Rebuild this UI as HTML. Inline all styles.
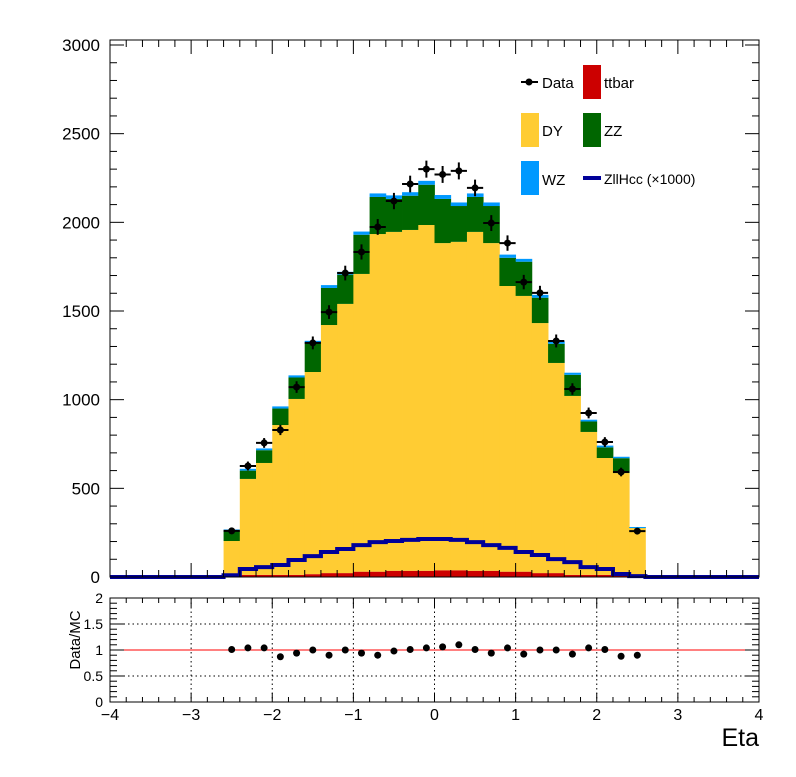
<!DOCTYPE html>
<html><head><meta charset="utf-8"><style>
body{margin:0;background:#fff;font-family:"Liberation Sans",sans-serif}
svg text{font-family:"Liberation Sans",sans-serif}
</style></head><body>
<svg id="c" width="796" height="772" xmlns="http://www.w3.org/2000/svg"></svg>
<script>
const binEdgesLow = -2.6, binWidth = 0.2;
const ttbar = [0,12,12,12,12,16,22,22,30,30,35,35,35,38,38,35,35,30,30,22,22,12,12,12,12,0];
const dyTop = [203,553,643,857,1004,1156,1421,1540,1709,1934,1946,1957,1985,1883,1890,1946,1883,1641,1585,1432,1207,1021,818,671,586,282];
const zzTop = [262,600,715,950,1125,1318,1630,1705,1930,2143,2132,2150,2212,2132,2092,2143,2092,1800,1778,1575,1315,1140,877,731,670,276];
const wz = [6,10,10,12,12,14,16,16,18,20,20,20,22,22,20,20,20,18,16,16,14,12,10,10,8,6];
const dataVals = [260,626,756,829,1071,1320,1494,1714,1833,1974,2120,2216,2300,2270,2290,2194,1996,1883,1663,1602,1331,1060,925,761,592,259];
const signal = [10,45,56,68,96,118,141,158,180,197,203,209,214,214,209,197,180,164,141,124,101,84,56,45,17,5];
const ratio = [1.01,1.04,1.04,0.87,0.94,1.0,0.90,1.0,0.94,0.90,0.98,1.01,1.04,1.06,1.10,1.01,0.94,1.04,0.92,1.0,1.0,0.92,1.04,1.01,0.88,0.90];
const yTicks = [0,500,1000,1500,2000,2500,3000];
const xTicks = [-4,-3,-2,-1,0,1,2,3,4];
const rTicks = [0,0.5,1,1.5,2];

const X0=110,X1=759;
const sx=v=>X0+(v+4)*(X1-X0)/8;
const sy=v=>577-v*(577-45)/3000;
const ry=v=>702-v*52;
const svg=document.getElementById('c');
const NS='http://www.w3.org/2000/svg';
function mk(tag,attrs,parent){const e=document.createElementNS(NS,tag);for(const k in attrs)e.setAttribute(k,attrs[k]);(parent||svg).appendChild(e);return e;}
function txt(s,x,y,attrs){const t=mk('text',Object.assign({x:x,y:y,'font-size':16},attrs||{}));t.textContent=s;return t;}

const gS=mk('g',{});


for(let i=0;i<dyTop.length;i++){
  const xa=sx(binEdgesLow+i*binWidth), xb=sx(binEdgesLow+(i+1)*binWidth);
  const wzTop=zzTop[i]+wz[i];
  const layers=[[0,ttbar[i],'#cc0000','ttbar'],[ttbar[i],dyTop[i],'#ffcc33','dy'],[dyTop[i],zzTop[i],'#006600','zz'],[zzTop[i],wzTop,'#0099ff','wz']];
  for(const L of layers){
    const r=mk('rect',{x:xa,y:sy(L[1]),width:xb-xa+0.4,height:Math.max(0,sy(L[0])-sy(L[1])),fill:L[2]},gS);
    
    
  }
}
let d='M'+X0+','+sy(0)+' L'+sx(binEdgesLow)+','+sy(0);
for(let i=0;i<signal.length;i++){
  const xa=sx(binEdgesLow+i*binWidth), xb=sx(binEdgesLow+(i+1)*binWidth);
  d+=' L'+xa+','+sy(signal[i])+' L'+xb+','+sy(signal[i]);
}
d+=' L'+sx(binEdgesLow+signal.length*binWidth)+','+sy(0)+' L'+X1+','+sy(0);
const sl=mk('path',{d:d,fill:'none',stroke:'#000099','stroke-width':4});


for(let i=0;i<dataVals.length;i++){
  const xa=sx(binEdgesLow+i*binWidth), xb=sx(binEdgesLow+(i+1)*binWidth), xc=(xa+xb)/2;
  const v=dataVals[i], e=Math.sqrt(v);
  const g=mk('g',{});
  
  
  mk('line',{x1:xa,x2:xb,y1:sy(v),y2:sy(v),stroke:'#000','stroke-width':2},g);
  mk('line',{x1:xc,x2:xc,y1:sy(v+e),y2:sy(v-e),stroke:'#000','stroke-width':2},g);
  mk('circle',{cx:xc,cy:sy(v),r:3.5,fill:'#000'},g);
}
const fr=mk('rect',{x:X0,y:40,width:X1-X0,height:537,fill:'none',stroke:'#000','stroke-width':1});


for(let v=0;v<=3000;v+=100){
  const L=v%500===0?14:7;
  mk('line',{x1:X0,x2:X0+L,y1:sy(v),y2:sy(v),stroke:'#000'});
  mk('line',{x1:X1,x2:X1-L,y1:sy(v),y2:sy(v),stroke:'#000'});
}
for(let v=-4;v<=4.001;v+=0.2){
  const major=Math.abs(v-Math.round(v))<0.01;
  const L=major?14:7;
  mk('line',{x1:sx(v),x2:sx(v),y1:577,y2:577-L,stroke:'#000'});
  mk('line',{x1:sx(v),x2:sx(v),y1:40,y2:40+L,stroke:'#000'});
  mk('line',{x1:sx(v),x2:sx(v),y1:702,y2:702-(major?9:5),stroke:'#000'});
  mk('line',{x1:sx(v),x2:sx(v),y1:598,y2:598+(major?9:5),stroke:'#000'});
}
yTicks.forEach(v=>{const t=txt(String(v),100,sy(v)+6,{'text-anchor':'end','font-size':17});
  });

const lg=mk('g',{});


mk('line',{x1:521,x2:538,y1:82,y2:82,stroke:'#000','stroke-width':2},lg);
mk('circle',{cx:529,cy:82,r:3.5,fill:'#000'},lg);
txt('Data',542,88,{'font-size':15});
mk('rect',{x:583,y:65,width:18,height:34,fill:'#cc0000'},lg);
txt('ttbar',604,88,{'font-size':15});
mk('rect',{x:521,y:113,width:18,height:34,fill:'#ffcc33'},lg);
txt('DY',542,136,{'font-size':15});
mk('rect',{x:583,y:113,width:18,height:34,fill:'#006600'},lg);
txt('ZZ',604,136,{'font-size':15});
mk('rect',{x:521,y:161,width:18,height:34,fill:'#0099ff'},lg);
txt('WZ',542,185,{'font-size':15});
mk('line',{x1:583,x2:601,y1:178,y2:178,stroke:'#000099','stroke-width':4},lg);
txt('ZllHcc (\u00d71000)',604,184,{'font-size':14});

const rf=mk('rect',{x:X0,y:598,width:X1-X0,height:104,fill:'none',stroke:'#000'});


[-3,-2,-1,0,1,2,3].forEach(v=>mk('line',{x1:sx(v),x2:sx(v),y1:598,y2:702,stroke:'#000','stroke-dasharray':'1.5,3'}));
[0.5,1.5].forEach(v=>mk('line',{x1:X0,x2:X1,y1:ry(v),y2:ry(v),stroke:'#000','stroke-dasharray':'1.5,3'}));
const rl=mk('line',{x1:X0,x2:X1,y1:ry(1),y2:ry(1),stroke:'#ff0000','stroke-width':1});


for(let v=0;v<=2.001;v+=0.1){const major=Math.abs(v*2-Math.round(v*2))<0.01;
  mk('line',{x1:X0,x2:X0+(major?14:7),y1:ry(v),y2:ry(v),stroke:'#000'});
  mk('line',{x1:X1,x2:X1-(major?14:7),y1:ry(v),y2:ry(v),stroke:'#000'});}
rTicks.forEach(v=>{const t=txt(String(v),103,ry(v)+5,{'text-anchor':'end','font-size':14});
  });
for(let i=0;i<ratio.length;i++){
  const xc=sx(binEdgesLow+(i+0.5)*binWidth);
  const c=mk('circle',{cx:xc,cy:ry(ratio[i]),r:3.5,fill:'#000'});
  
  
}
xTicks.forEach(v=>{const t=txt(v<0?'\u2212'+Math.abs(v):String(v),sx(v),720,{'text-anchor':'middle','font-size':16});
  });
const yt=txt('Data/MC',0,0,{'font-size':15,'text-anchor':'middle',transform:'translate(80,640) rotate(-90)'});

const xt=txt('Eta',759,746,{'font-size':25,'text-anchor':'end'});

</script>
</body></html>
